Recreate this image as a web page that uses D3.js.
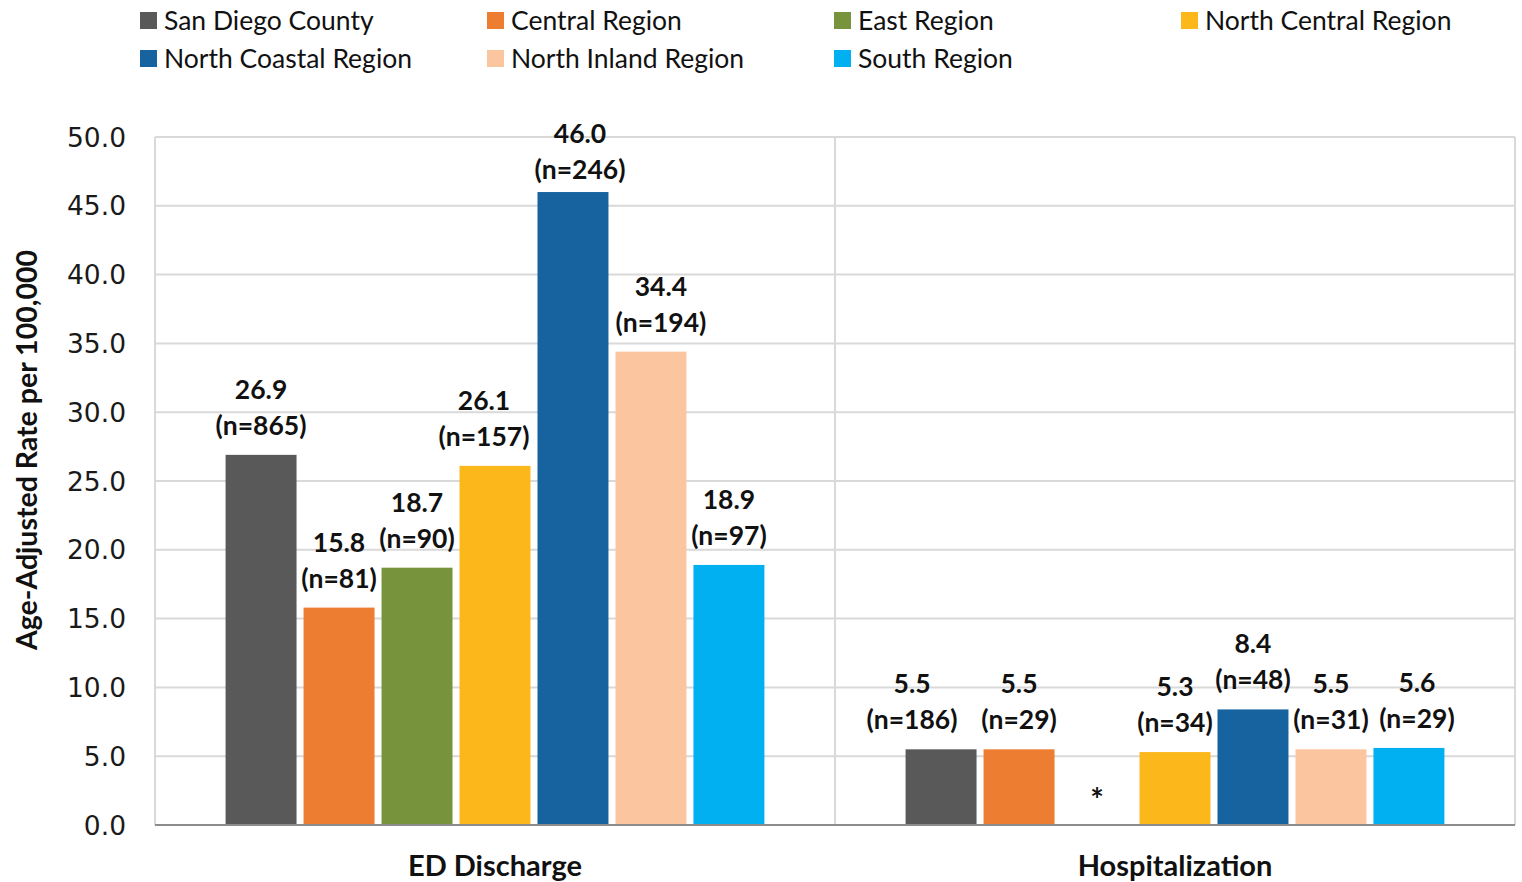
<!DOCTYPE html>
<html lang="en">
<head>
<meta charset="UTF-8">
<title>Age-Adjusted Rate per 100,000</title>
<style>
    body {
        margin: 0;
        background: white;
        font-family: Lato, 'Open Sans', sans-serif;
    }
    .tick-label {
        font-family: 'DejaVu Sans', Verdana, sans-serif;
        font-size: 26.5px;
        fill: #1a1a1a;
    }
    .legend-label {
        font-size: 26.5px;
        fill: #111;
    }
    .bar-label, .cat-label, .axis-title {
        font-weight: bold;
        fill: #111;
    }
</style>
</head>
<body>
<div id="chart"></div>
<script src="https://d3js.org/d3.v7.min.js"></script>
<script>
    const width = 1522, height = 882;

    // chart data
    const categories = ["ED Discharge", "Hospitalization"];
    const series = ["San Diego County", "Central Region", "East Region", "North Central Region",
                    "North Coastal Region", "North Inland Region", "South Region"];
    const colors = ["#595959", "#ED7D31", "#77933C", "#FCB71B", "#1763A0", "#FBC59F", "#00B0F0"];
    const edRates = [26.9, 15.8, 18.7, 26.1, 46.0, 34.4, 18.9];
    const edCounts = [865, 81, 90, 157, 246, 194, 97];
    const hospRates = [5.5, 5.5, null, 5.3, 8.4, 5.5, 5.6];
    const hospCounts = [186, 29, null, 34, 48, 31, 29];
    const yTicks = [0, 5, 10, 15, 20, 25, 30, 35, 40, 45, 50];

    const rates = [edRates, hospRates];
    const counts = [edCounts, hospCounts];

    // hand-nudged label offsets (as in the original), kept apart from the data
    const labelNudge = [[0, 0, 0, -11, 7, 10, 0], [-29, 0, 0, 0, 0, 0, 8]];

    const margin = {top: 137, right: 7, bottom: 57, left: 155};
    const plotW = width - margin.left - margin.right;
    const plotH = height - margin.top - margin.bottom;

    const svg = d3.select("#chart").append("svg")
        .attr("width", width)
        .attr("height", height);

    const x0 = d3.scaleBand().domain(categories).range([margin.left, margin.left + plotW]);
    const x1 = d3.scaleBand().domain(series).range([0, x0.bandwidth()])
        .paddingInner(0.09).paddingOuter(0.905);
    const y = d3.scaleLinear().domain([0, 50]).range([margin.top + plotH, margin.top]);

    // horizontal gridlines
    svg.append("g").selectAll("line")
        .data(yTicks.slice(1))
        .join("line")
        .attr("x1", margin.left).attr("x2", margin.left + plotW)
        .attr("y1", d => y(d)).attr("y2", d => y(d))
        .attr("stroke", "#d9d9d9").attr("stroke-width", 2);

    // vertical gridlines at category boundaries
    const vLines = categories.map(c => x0(c)).concat([x0.range()[1]]);
    svg.append("g").selectAll("line")
        .data(vLines)
        .join("line")
        .attr("x1", d => d).attr("x2", d => d)
        .attr("y1", y(50)).attr("y2", y(0))
        .attr("stroke", "#d9d9d9").attr("stroke-width", 2);

    // y tick labels
    svg.append("g").selectAll("text")
        .data(yTicks)
        .join("text")
        .attr("class", "tick-label")
        .attr("x", 126)
        .attr("y", d => y(d))
        .attr("dy", "0.36em")
        .attr("text-anchor", "end")
        .text(d => d.toFixed(1));

    // bars
    const groups = svg.append("g").selectAll("g")
        .data(categories)
        .join("g")
        .attr("transform", c => `translate(${x0(c)},0)`);

    groups.each(function(c, ci) {
        const g = d3.select(this);
        const rows = series.map((s, i) => ({s, i, v: rates[ci][i], n: counts[ci][i]}));

        g.selectAll("rect")
            .data(rows.filter(d => d.v != null))
            .join("rect")
            .attr("x", d => x1(d.s))
            .attr("y", d => y(d.v))
            .attr("width", x1.bandwidth())
            .attr("height", d => y(0) - y(d.v))
            .attr("fill", d => colors[d.i]);

        const lab = g.selectAll("text.bar-label")
            .data(rows.filter(d => d.v != null))
            .join("text")
            .attr("class", "bar-label")
            .attr("text-anchor", "middle")
            .style("font-size", "26.5px");
        const base = d => Math.max(y(d.v) - 20, 179);
        const lx = d => x1(d.s) + x1.bandwidth() / 2 + labelNudge[ci][d.i];
        lab.append("tspan")
            .attr("x", lx)
            .attr("y", d => base(d) - 36)
            .text(d => d.v.toFixed(1));
        lab.append("tspan")
            .attr("x", lx)
            .attr("y", d => base(d))
            .text(d => `(n=${d.n})`);

        // missing value marker
        g.selectAll("text.missing")
            .data(rows.filter(d => d.v == null))
            .join("text")
            .attr("class", "bar-label missing")
            .attr("text-anchor", "middle")
            .style("font-size", "32px")
            .attr("x", d => x1(d.s) + x1.bandwidth() / 2)
            .attr("y", y(0) - 13)
            .text("*");
    });

    // x axis line
    svg.append("line")
        .attr("x1", margin.left).attr("x2", margin.left + plotW)
        .attr("y1", y(0)).attr("y2", y(0))
        .attr("stroke", "#8c8c8c").attr("stroke-width", 2);

    // category labels
    svg.append("g").selectAll("text")
        .data(categories)
        .join("text")
        .attr("class", "cat-label")
        .attr("x", c => x0(c) + x0.bandwidth() / 2)
        .attr("y", 876)
        .attr("text-anchor", "middle")
        .style("font-size", "29px")
        .text(c => c);

    // y axis title
    svg.append("text")
        .attr("class", "axis-title")
        .attr("transform", "translate(37,450) rotate(-90)")
        .attr("text-anchor", "middle")
        .style("font-size", "28.5px")
        .text("Age-Adjusted Rate per 100,000");

    // legend
    const legend = svg.append("g").selectAll("g")
        .data(series)
        .join("g")
        .attr("transform", (s, i) => `translate(${140 + (i % 4) * 347},${20 + Math.floor(i / 4) * 38})`);
    legend.append("rect")
        .attr("x", 0).attr("y", -8)
        .attr("width", 17).attr("height", 17)
        .attr("fill", (s, i) => colors[i]);
    legend.append("text")
        .attr("class", "legend-label")
        .attr("x", 24)
        .attr("dy", "0.36em")
        .text(s => s);
</script>
</body>
</html>
